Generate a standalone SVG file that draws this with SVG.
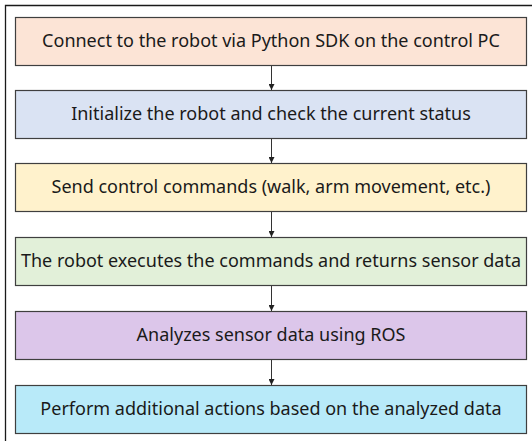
<svg xmlns="http://www.w3.org/2000/svg" width="532" height="441" viewBox="0 0 532 441">
  <defs>
    <marker id="arrow" viewBox="0 0 6 6" refX="6" refY="3" markerWidth="6" markerHeight="6" markerUnits="userSpaceOnUse" orient="auto">
      <path d="M0,0 L6,3 L0,6 Z" fill="#222"/>
    </marker>
    <style>
      .box { stroke: #3f3f3f; stroke-width: 1.2; }
      .label { font-family: "Noto Sans", "Open Sans", sans-serif; font-size: 18px; fill: #1a1a1a; text-anchor: middle; }
      .link { stroke: #333; stroke-width: 1; fill: none; marker-end: url(#arrow); }
    </style>
  </defs>

  <rect width="532" height="441" fill="#ffffff"/>
  <!-- frame -->
  <path d="M5.5,441 V5.5 H532" fill="none" stroke="#1a1a1a" stroke-width="1.3"/>

  <g id="step1">
    <rect class="box" x="15.5" y="17.5" width="511" height="48" fill="#fce4d6"/>
    <text class="label" x="271" y="46.5">Connect to the robot via Python SDK on the control PC</text>
  </g>
  <g id="step2">
    <rect class="box" x="15.5" y="90.5" width="511" height="48" fill="#dae3f3"/>
    <text class="label" x="271" y="119.5">Initialize the robot and check the current status</text>
  </g>
  <g id="step3">
    <rect class="box" x="15.5" y="163.5" width="511" height="48" fill="#fff2cc"/>
    <text class="label" x="271" y="192.5">Send control commands (walk, arm movement, etc.)</text>
  </g>
  <g id="step4">
    <rect class="box" x="15.5" y="237.5" width="511" height="48" fill="#e2f0d9"/>
    <text class="label" x="271" y="266.5">The robot executes the commands and returns sensor data</text>
  </g>
  <g id="step5">
    <rect class="box" x="15.5" y="311.5" width="511" height="48" fill="#dcc6ea"/>
    <text class="label" x="271" y="340.5">Analyzes sensor data using ROS</text>
  </g>
  <g id="step6">
    <rect class="box" x="15.5" y="385.5" width="511" height="48" fill="#b8eaf9"/>
    <text class="label" x="271" y="414.5">Perform additional actions based on the analyzed data</text>
  </g>

  <g id="connectors">
    <line class="link" x1="271.5" y1="66" x2="271.5" y2="90"/>
    <line class="link" x1="271.5" y1="139" x2="271.5" y2="163"/>
    <line class="link" x1="271.5" y1="212" x2="271.5" y2="237"/>
    <line class="link" x1="271.5" y1="286" x2="271.5" y2="311"/>
    <line class="link" x1="271.5" y1="360" x2="271.5" y2="385"/>
  </g>
</svg>
